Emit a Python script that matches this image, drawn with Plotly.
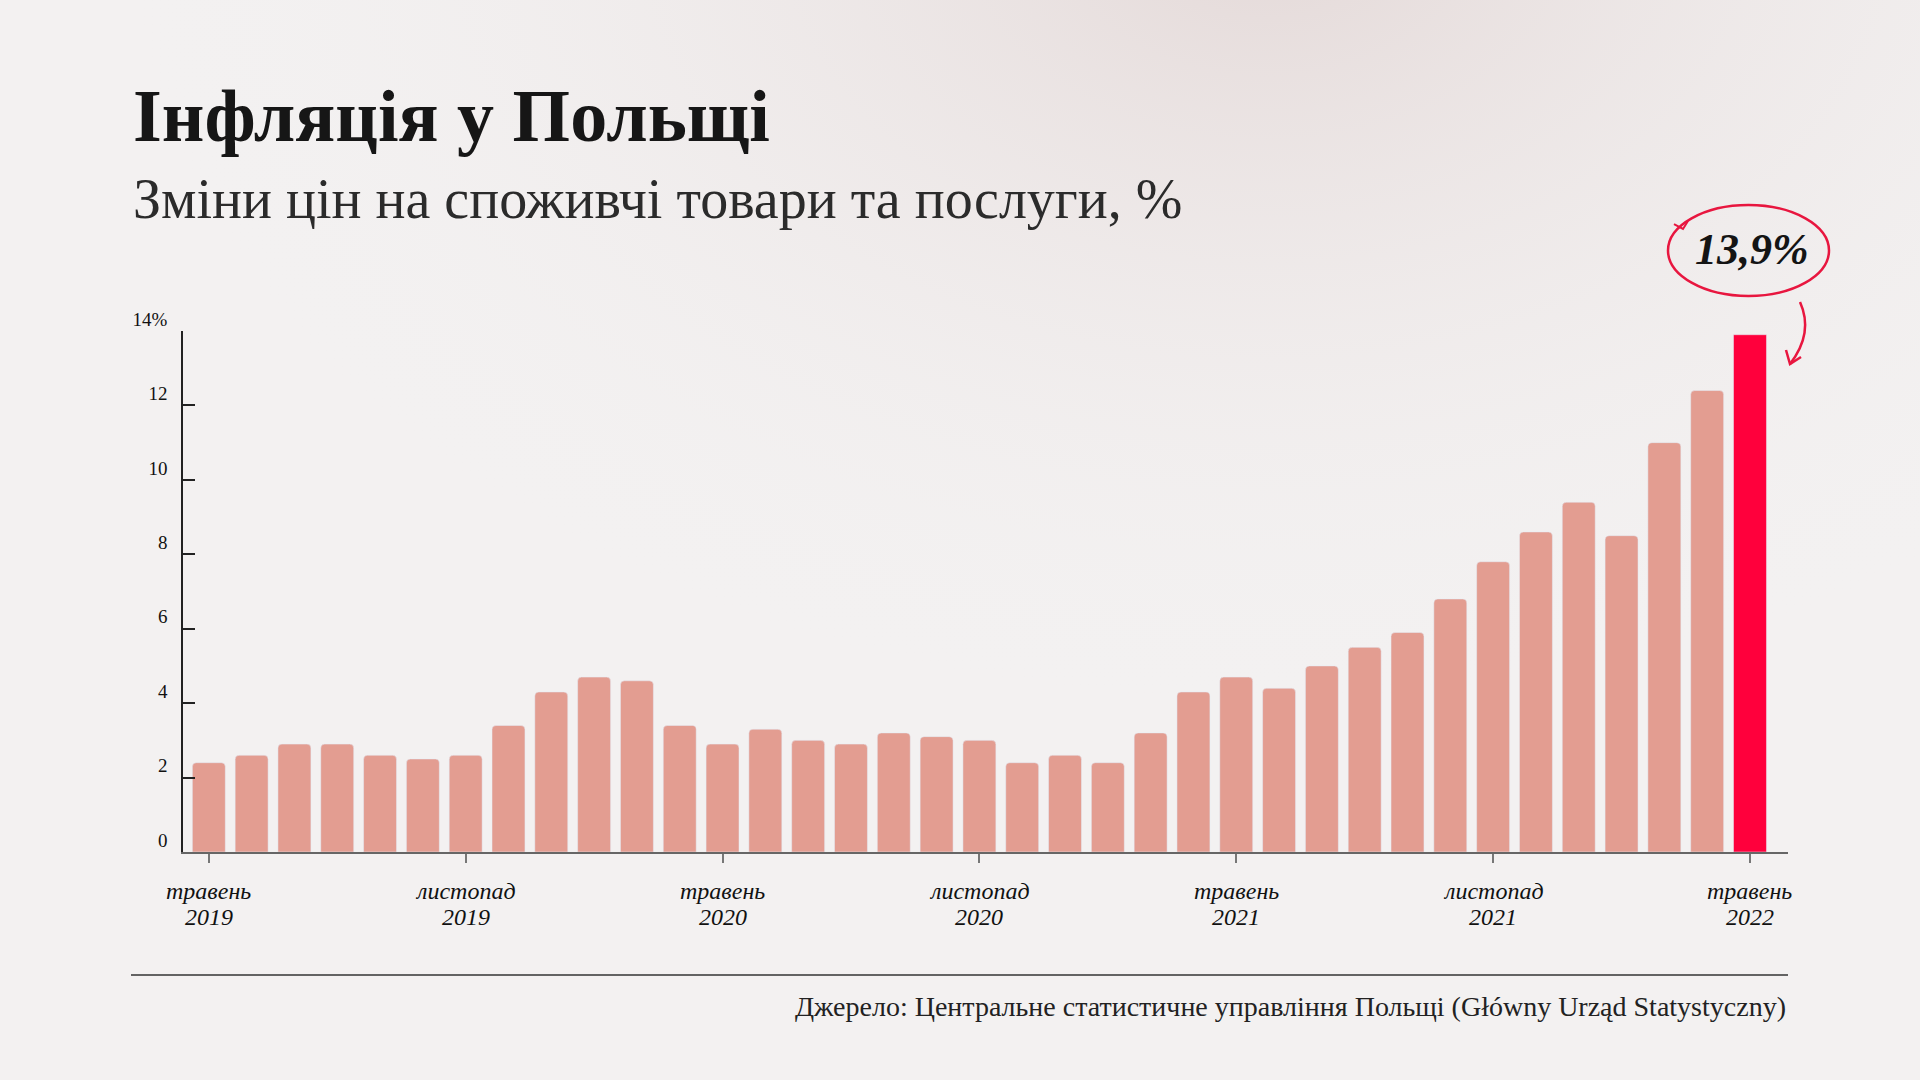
import base64
import plotly.graph_objects as go

# Інфляція у Польщі, травень 2019 - травень 2022, % р/р
months = ["2019-05", "2019-06", "2019-07", "2019-08", "2019-09", "2019-10", "2019-11", "2019-12",
          "2020-01", "2020-02", "2020-03", "2020-04", "2020-05", "2020-06", "2020-07", "2020-08",
          "2020-09", "2020-10", "2020-11", "2020-12", "2021-01", "2021-02", "2021-03", "2021-04",
          "2021-05", "2021-06", "2021-07", "2021-08", "2021-09", "2021-10", "2021-11", "2021-12",
          "2022-01", "2022-02", "2022-03", "2022-04", "2022-05"]
cpi = [2.4, 2.6, 2.9, 2.9, 2.6, 2.5, 2.6, 3.4,
       4.3, 4.7, 4.6, 3.4, 2.9, 3.3, 3.0, 2.9,
       3.2, 3.1, 3.0, 2.4, 2.6, 2.4, 3.2, 4.3,
       4.7, 4.4, 5.0, 5.5, 5.9, 6.8, 7.8, 8.6,
       9.4, 8.5, 11.0, 12.4, 13.9]

tick_months = ["2019-05", "2019-11", "2020-05", "2020-11", "2021-05", "2021-11", "2022-05"]
tick_month_names = ["травень", "листопад", "травень", "листопад", "травень", "листопад", "травень"]
tick_years = ["2019", "2019", "2020", "2020", "2021", "2021", "2022"]

y_tickvals = [0, 2, 4, 6, 8, 10, 12, 14]
y_ticktext = ["0", "2", "4", "6", "8", "10", "12", "14%"]

title = "Інфляція у Польщі"
subtitle = "Зміни цін на споживчі товари та послуги, %"
source = "Джерело: Центральне статистичне управління Польщі (Główny Urząd Statystyczny)"

W, H = 1920, 1080
PL, PR, PT, PB = 183, 1788, 331, 852   # plot area in px
SERIF = "Liberation Serif, DejaVu Serif, serif"
PINK = "#E39D91"
RED = "#FF003C"
PEN = "#E8163F"


def px(x, y):
    # pixel -> paper coords
    return (x - PL) / (PR - PL), (PB - y) / (PB - PT)


def path(points, cmd="L"):
    s = ""
    for i, (x, y) in enumerate(points):
        a, b = px(x, y)
        s += ("M" if i == 0 else cmd) + f"{a:.5f},{b:.5f} "
    return s


xs = list(range(len(cpi)))

fig = go.Figure()
fig.add_trace(go.Bar(x=xs[:-1], y=cpi[:-1], marker=dict(color=PINK, cornerradius=4),
                     hoverinfo="y"))
fig.add_trace(go.Bar(x=xs[-1:], y=cpi[-1:], marker=dict(color=RED), hoverinfo="y"))

# background gradient
svg = f"""<svg xmlns='http://www.w3.org/2000/svg' width='{W}' height='{H}'>
<defs><radialGradient id='g' cx='0.66' cy='-0.05' r='0.6' gradientTransform='scale(1,1.2)'>
<stop offset='0' stop-color='#e4d9d8' stop-opacity='1'/>
<stop offset='1' stop-color='#f3f1f1' stop-opacity='0'/></radialGradient></defs>
<rect width='{W}' height='{H}' fill='#f3f1f1'/>
<rect width='{W}' height='{H}' fill='url(#g)'/></svg>"""
src = "data:image/svg+xml;base64," + base64.b64encode(svg.encode()).decode()
bx, by = px(0, 0)
fig.add_layout_image(source=src, xref="paper", yref="paper", x=bx, y=by,
                     sizex=W / (PR - PL), sizey=H / (PB - PT), xanchor="left", yanchor="top",
                     sizing="stretch", layer="below")


def label(text, x, y, size, xanchor="left", **font):
    a, b = px(x, y)
    return dict(text=text, x=a, y=b, xref="paper", yref="paper", xanchor=xanchor, yanchor="middle",
                showarrow=False, font=dict(family=SERIF, size=size, **font))


ann = [
    label(title, 131, 116, 74, color="#161616", weight="bold"),
    label(subtitle, 131, 199, 56, color="#2b2b2b"),
    label(source, 1788, 1006, 28, xanchor="right", color="#222"),
    # callout for the last value
    label(f"{cpi[-1]:.1f}%".replace(".", ","), 1752, 250, 44, xanchor="center",
          color="#141414", style="italic", weight="bold"),
]

# x tick labels (two lines)
for m, name, yr in zip(tick_months, tick_month_names, tick_years):
    i = months.index(m)
    for txt, dy in ((name, -39), (yr, -65)):
        ann.append(dict(text=txt, x=i, xref="x", y=0, yref="paper", yshift=dy,
                        xanchor="center", yanchor="middle", showarrow=False,
                        font=dict(family=SERIF, size=24, color="#111", style="italic")))

shapes = []
x0, y0 = px(131, 975)
x1, _ = px(1788, 975)
shapes.append(dict(type="line", xref="paper", yref="paper", x0=x0, x1=x1, y0=y0, y1=y0,
                   line=dict(color="#333", width=1.5)))
ex0, ey0 = px(1668, 296)
ex1, ey1 = px(1829, 205)
shapes.append(dict(type="circle", xref="paper", yref="paper", x0=ex0, x1=ex1, y0=ey0, y1=ey1,
                   line=dict(color=PEN, width=2.5)))
shapes.append(dict(type="path", xref="paper", yref="paper",
                   path=path([(1674, 224), (1683, 229), (1688, 221)]), line=dict(color=PEN, width=2)))
a = px(1800, 302)
c = px(1814, 333)
b = px(1790, 364)
shapes.append(dict(type="path", xref="paper", yref="paper",
                   path=f"M{a[0]:.5f},{a[1]:.5f} Q{c[0]:.5f},{c[1]:.5f} {b[0]:.5f},{b[1]:.5f}",
                   line=dict(color=PEN, width=2.5)))
shapes.append(dict(type="path", xref="paper", yref="paper",
                   path=path([(1786, 350), (1790, 364), (1801, 357)]), line=dict(color=PEN, width=2.5)))

fig.update_layout(
    width=W, height=H,
    margin=dict(l=PL, r=W - PR, t=PT, b=H - PB, pad=0),
    paper_bgcolor="#f3f1f1", plot_bgcolor="rgba(0,0,0,0)",
    barmode="overlay", bargap=0.23, showlegend=False,
    font=dict(family=SERIF, color="#111"),
    annotations=ann, shapes=shapes,
    xaxis=dict(range=[-0.603, 36.888], showgrid=False, zeroline=False,
               showline=True, linecolor="#666", linewidth=1.5,
               tickvals=[months.index(m) for m in tick_months], ticktext=[""] * len(tick_months),
               ticks="outside", ticklen=9, tickcolor="#777", tickwidth=1.5),
    yaxis=dict(range=[0, 14], showgrid=False, zeroline=False,
               showline=True, linecolor="#222", linewidth=1.5,
               tickvals=y_tickvals, ticktext=y_ticktext,
               ticks="inside", ticklen=12, tickcolor="#222", tickwidth=1.5,
               tickfont=dict(family=SERIF, size=19, color="#111"),
               ticklabelstandoff=10, ticklabelshift=-12),
)

fig.write_html("out.html", config={"displayModeBar": False},
               post_script="document.body.style.margin='0';")
